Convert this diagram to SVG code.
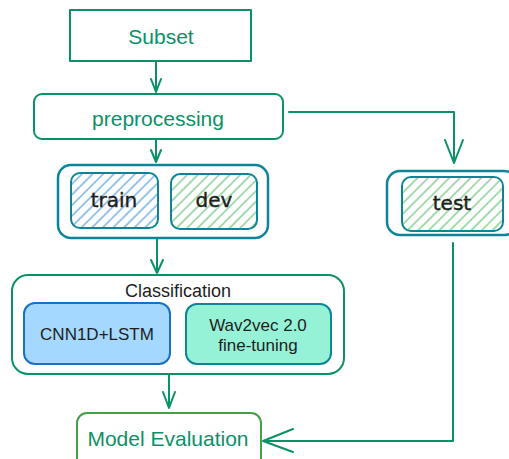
<svg xmlns="http://www.w3.org/2000/svg" width="509" height="459" viewBox="0 0 509 459">
<style>
.g{fill:none;stroke:#099268;stroke-width:2;stroke-linecap:round;stroke-linejoin:round}
.t{fill:none;stroke:#0c8599;stroke-width:2.5}
.lbl{font-family:"Liberation Sans",Arial,sans-serif;text-anchor:middle}
.gt{fill:#099268;font-size:21px}
.bk{fill:#1e1e1e;font-size:17px}
.hw{font-family:"DejaVu Sans",sans-serif;fill:#1e1e1e;font-size:20px;text-anchor:middle;stroke:#1e1e1e;stroke-width:0.4}
</style>
<defs>
<pattern id="hb" patternUnits="userSpaceOnUse" width="7.5" height="7.5" patternTransform="rotate(45)">
<line x1="1" y1="0" x2="1" y2="7.5" stroke="#1c7ed6" stroke-width="0.9"/>
</pattern>
<pattern id="hg" patternUnits="userSpaceOnUse" width="7.5" height="7.5" patternTransform="rotate(45)">
<line x1="1" y1="0" x2="1" y2="7.5" stroke="#37b24d" stroke-width="0.9"/>
</pattern>
</defs>
<rect width="509" height="459" fill="#fff"/>
<g id="connectors" class="g">
<path d="M156 61V92M151 79L156 92L161 79"/>
<path d="M156 140V162M151 150L156 162L161 150"/>
<path d="M289 112H454V163M445 140L454 163L463 140"/>
<path d="M157 239V273M151 260L157 273L163 260"/>
<path d="M169 375V408M163 392L169 408L175 392"/>
<path d="M453 243V441H263M293 429L263 441L293 452"/>
</g>
<g id="subset">
<rect x="70" y="10" width="181" height="51" class="g"/>
<text x="161" y="44" class="lbl gt">Subset</text>
</g>
<g id="preprocessing">
<rect x="34" y="94" width="249" height="45" rx="8" class="g"/>
<text x="158" y="126" class="lbl gt">preprocessing</text>
</g>
<g id="traindev">
<rect x="58" y="165" width="210" height="73" rx="13" class="t"/>
<g id="train">
<rect x="71" y="173" width="87" height="55" rx="9" fill="url(#hb)" stroke="#0c8599" stroke-width="2"/>
<text x="114" y="207" class="hw">train</text>
</g>
<g id="dev">
<rect x="171" y="174" width="86" height="55" rx="9" fill="url(#hg)" stroke="#0c8599" stroke-width="2"/>
<text x="214" y="207" class="hw">dev</text>
</g>
</g>
<g id="testgroup">
<rect x="387" y="171" width="130" height="64" rx="13" class="t"/>
<g id="test">
<rect x="402" y="177" width="101" height="54" rx="9" fill="url(#hg)" stroke="#0c8599" stroke-width="2"/>
<text x="452" y="210" class="hw">test</text>
</g>
</g>
<g id="classification">
<rect x="12" y="275" width="332" height="99" rx="16" class="g"/>
<text x="178" y="297" class="lbl bk" style="font-size:18px">Classification</text>
<g id="cnn">
<rect x="24" y="303" width="146" height="61" rx="11" fill="#a5d8ff" stroke="#1971c2" stroke-width="2"/>
<text x="97" y="340" class="lbl bk">CNN1D+LSTM</text>
</g>
<g id="wav2vec">
<rect x="186" y="304" width="145" height="60" rx="11" fill="#96f2d7" stroke="#0c8599" stroke-width="2"/>
<text x="258" y="331" class="lbl bk">Wav2vec 2.0</text>
<text x="258" y="351" class="lbl bk">fine-tuning</text>
</g>
</g>
<g id="evaluation">
<rect x="77" y="413" width="184" height="60" rx="10" fill="none" stroke="#40a34a" stroke-width="2"/>
<text x="168" y="446" class="lbl gt">Model Evaluation</text>
</g>
</svg>
